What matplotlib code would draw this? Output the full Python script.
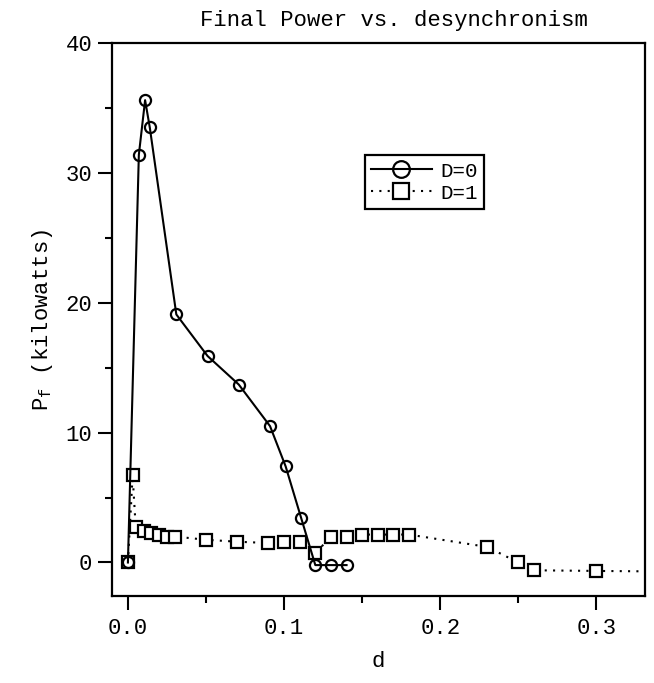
import matplotlib
matplotlib.use("Agg")
import matplotlib.pyplot as plt
from matplotlib.ticker import MultipleLocator

# Data
d0_x = [0.0, 0.007, 0.011, 0.014, 0.031, 0.051, 0.071, 0.091, 0.101, 0.111, 0.12, 0.13, 0.14]
d0_y = [0.0, 31.4, 35.6, 33.5, 19.1, 15.9, 13.7, 10.5, 7.4, 3.4, -0.2, -0.2, -0.2]

d1_x = [0.0, 0.003, 0.005, 0.01, 0.015, 0.02, 0.025, 0.03, 0.05, 0.07, 0.09, 0.1, 0.11,
        0.12, 0.13, 0.14, 0.15, 0.16, 0.17, 0.18, 0.23, 0.25, 0.26, 0.30, 0.35]
d1_y = [0.0, 6.7, 2.7, 2.4, 2.3, 2.1, 2.0, 2.0, 1.75, 1.6, 1.5, 1.6, 1.6,
        0.75, 1.95, 1.95, 2.15, 2.15, 2.15, 2.15, 1.2, 0.0, -0.6, -0.65, -0.7]

plt.rcParams['font.family'] = ['Liberation Mono', 'DejaVu Sans Mono']

fig = plt.figure(figsize=(6.54, 6.83), dpi=100)
ax = fig.add_axes([0.171, 0.127, 0.815, 0.810])

ax.plot(d1_x, d1_y, color='black', linestyle=(0, (1, 3)), linewidth=1.5,
        marker='s', markersize=8, markerfacecolor='white', markeredgecolor='black',
        markeredgewidth=1.6, label='D=1', zorder=2)
ax.plot(d0_x, d0_y, color='black', linestyle='-', linewidth=1.5,
        marker='o', markersize=8, markerfacecolor='none', markeredgecolor='black',
        markeredgewidth=1.6, label='D=0', zorder=3)

ax.set_xlim(-0.0103, 0.331)
ax.set_ylim(-2.6, 40)

ax.xaxis.set_major_locator(MultipleLocator(0.1))
ax.xaxis.set_minor_locator(MultipleLocator(0.05))
ax.yaxis.set_major_locator(MultipleLocator(10))
ax.yaxis.set_minor_locator(MultipleLocator(5))
ax.xaxis.set_major_formatter(lambda v, p: f"{v:.1f}")
ax.yaxis.set_major_formatter(lambda v, p: f"{v:.0f}")

ax.tick_params(which='major', direction='out', length=10, width=1.5, labelsize=16, pad=6)
ax.tick_params(axis='y', which='major', pad=4)
ax.tick_params(which='minor', direction='out', length=5, width=1.5)
for s in ax.spines.values():
    s.set_linewidth(1.6)

ax.set_title("Final Power vs. desynchronism", fontsize=16, pad=12, x=0.53)
ax.set_xlabel("d", fontsize=16, labelpad=8)
ax.set_ylabel(r"P$_\mathregular{f}$ (kilowatts)", fontsize=16, labelpad=8)

handles, labels = ax.get_legend_handles_labels()
leg = ax.legend(handles[::-1], labels[::-1], loc='upper left', bbox_to_anchor=(0.475, 0.797),
                fontsize=15, handlelength=2.9, markerscale=1.5, fancybox=False,
                edgecolor='black', framealpha=1, borderaxespad=0, handletextpad=0.4,
                labelspacing=0.15, borderpad=0.3)
leg.get_frame().set_linewidth(1.6)

fig.savefig("out.png", dpi=100)
